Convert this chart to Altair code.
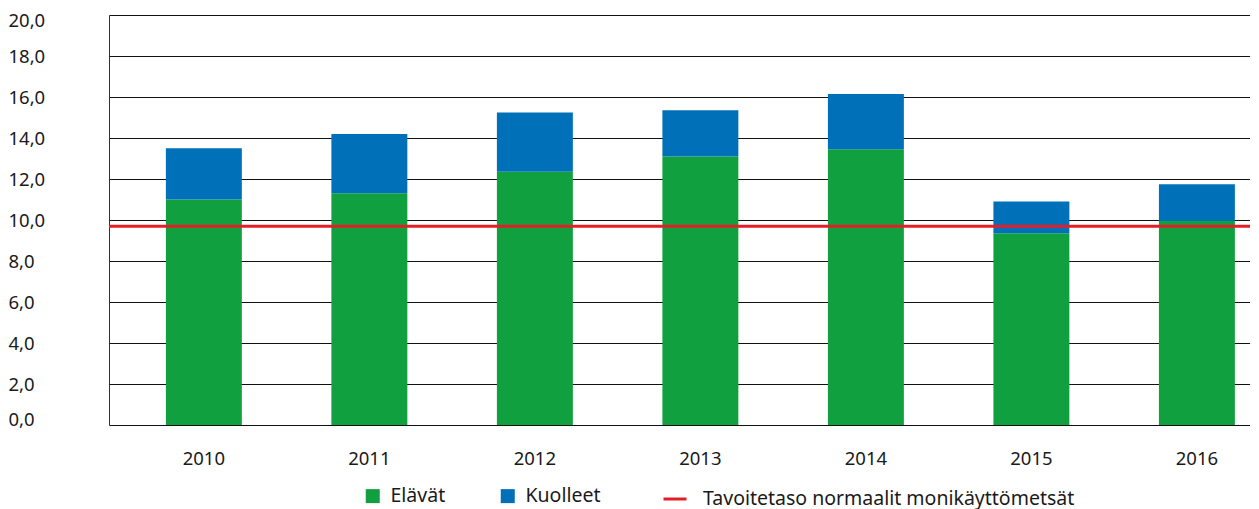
import altair as alt
import pandas as pd

years = ["2010", "2011", "2012", "2013", "2014", "2015", "2016"]
elavat = [11.0, 11.3, 12.35, 13.1, 13.45, 9.35, 9.95]
kuolleet = [2.5, 2.9, 2.9, 2.25, 2.7, 1.55, 1.8]
series = ["Elävät", "Kuolleet"]
colors = ["#11A03F", "#0071B8"]
target_label = "Tavoitetaso normaalit monikäyttömetsät"
target_value = 9.7
target_color = "#E41E26"
y_ticks = [0, 2, 4, 6, 8, 10, 12, 14, 16, 18, 20]

rows = []
for i, yr in enumerate(years):
    rows.append({"Vuosi": yr, "Sarja": series[0], "Arvo": elavat[i], "Jarj": 0})
    rows.append({"Vuosi": yr, "Sarja": series[1], "Arvo": kuolleet[i], "Jarj": 1})
bars_df = pd.DataFrame(rows)
target_df = pd.DataFrame({"Sarja": [target_label], "Arvo": [target_value]})

FONT = "Noto Sans"
W, H = 1141, 410
TXT = "#1a1a1a"

bars = alt.Chart(bars_df).mark_bar().encode(
    x=alt.X("Vuosi:N", sort=years,
            scale=alt.Scale(paddingInner=0.541, paddingOuter=0.2175, align=0.79),
            axis=alt.Axis(title=None, labelAngle=0, domain=False, ticks=False,
                          labelPadding=24, labelFontSize=18.5, labelColor=TXT,
                          grid=False)),
    y=alt.Y("Arvo:Q", stack="zero",
            scale=alt.Scale(domain=[0, 20], nice=False),
            axis=alt.Axis(title=None, values=y_ticks,
                          labelExpr="replace(format(datum.value, '.1f'), '.', ',')",
                          labelAlign="left", labelPadding=101, ticks=False,
                          labelFlush=True, labelFlushOffset=4,
                          domain=True, domainColor="#333", grid=True,
                          gridColor="#111", gridWidth=1, labelFontSize=18.5,
                          labelColor=TXT)),
    color=alt.Color("Sarja:N", scale=alt.Scale(domain=series, range=colors),
                    legend=alt.Legend(title=None, orient="none", legendX=254, legendY=471,
                                      direction="horizontal", symbolType="square",
                                      symbolSize=196, symbolStrokeWidth=0,
                                      labelFontSize=19.5, labelColor=TXT, labelLimit=0,
                                      columnPadding=52, labelOffset=8)),
    order=alt.Order("Jarj:Q"),
)

rule = alt.Chart(target_df).mark_rule(strokeWidth=3).encode(
    y=alt.Y("Arvo:Q"),
    color=alt.Color("Sarja:N", scale=alt.Scale(domain=[target_label], range=[target_color]),
                    legend=alt.Legend(title=None, orient="none", legendX=553, legendY=471,
                                      direction="horizontal", symbolType="stroke",
                                      symbolSize=529, symbolStrokeWidth=3,
                                      labelFontSize=19.5, labelColor=TXT, labelLimit=0,
                                      labelOffset=15)),
)

chart = alt.layer(bars, rule).resolve_scale(color="independent").properties(
    width=W, height=H,
    padding={"left": 101, "top": 7, "right": 0, "bottom": 84},
    autosize=alt.AutoSizeParams(type="none"),
).configure_view(stroke=None).configure(font=FONT)

chart.save("out.html", embed_options={"renderer": "svg", "actions": False})
